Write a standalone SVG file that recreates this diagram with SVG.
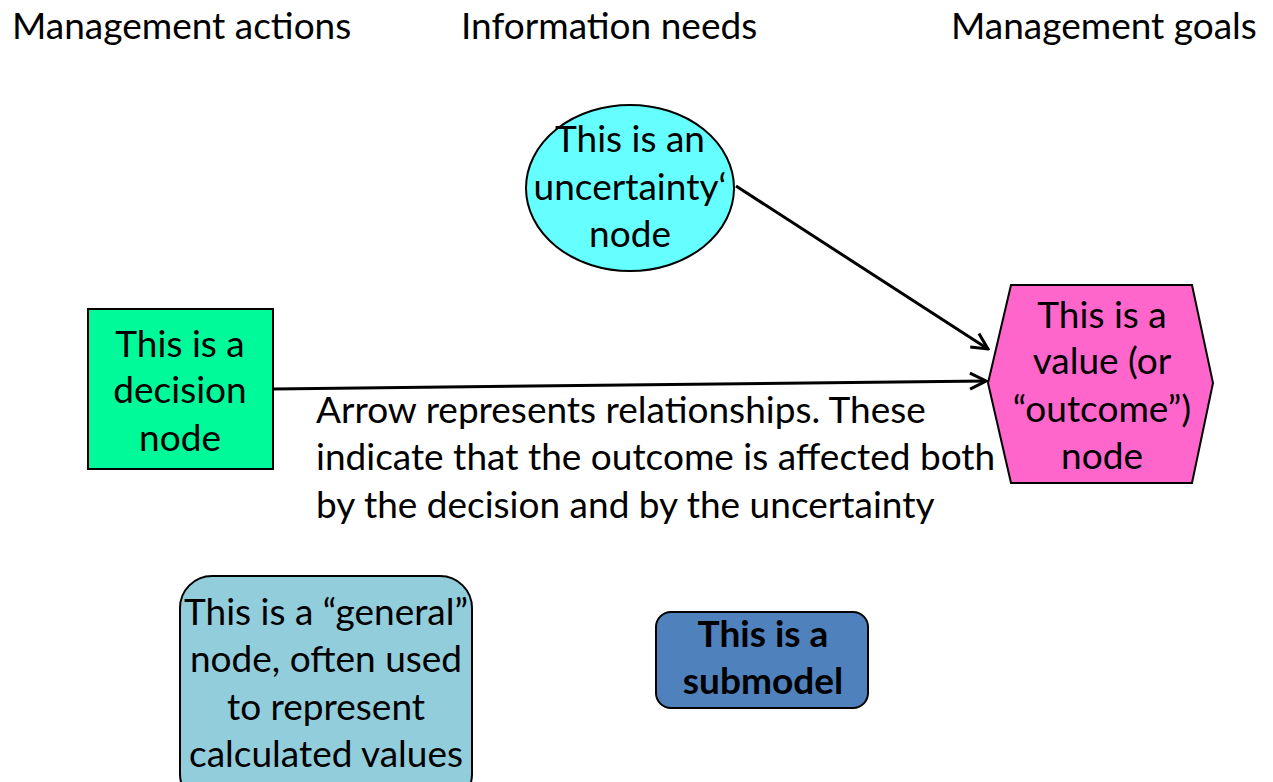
<svg xmlns="http://www.w3.org/2000/svg" width="1273" height="782" viewBox="0 0 1273 782">
  <style>
    text { font-family: Lato, "Open Sans", sans-serif; font-size: 37px; fill: #000; }
    .c { text-anchor: middle; }
    .b { font-weight: bold; }
    .shape { stroke: #000; stroke-width: 2; }
    .edge { stroke: #000; stroke-width: 3; fill: none; }
  </style>
  <defs>
    <marker id="arrow" viewBox="0 0 20 20" refX="18" refY="10" markerWidth="20" markerHeight="20" markerUnits="userSpaceOnUse" orient="auto">
      <path d="M2,2 L18,10 L2,18" fill="none" stroke="#000" stroke-width="3"/>
    </marker>
  </defs>
  <rect width="1273" height="782" fill="#fff"/>

  <!-- column headings -->
  <g id="headings">
    <text x="12" y="39">Management actions</text>
    <text x="461" y="39">Information needs</text>
    <text x="951" y="39">Management goals</text>
  </g>

  <!-- connectors -->
  <g id="connectors">
    <line class="edge" x1="273" y1="389" x2="986" y2="381" marker-end="url(#arrow)"/>
    <line class="edge" x1="736" y1="186" x2="988" y2="349" marker-end="url(#arrow)"/>
  </g>

  <g id="uncertainty-node">
    <ellipse class="shape" cx="630" cy="188" rx="104" ry="83" fill="#66FFFF"/>
    <text class="c" x="630" y="152">This is an</text>
    <text class="c" x="630" y="200">uncertainty‘</text>
    <text class="c" x="630" y="247">node</text>
  </g>

  <g id="decision-node">
    <rect class="shape" x="88" y="309" width="185" height="160" fill="#00FA9A"/>
    <text class="c" x="180" y="357">This is a</text>
    <text class="c" x="180" y="403">decision</text>
    <text class="c" x="180" y="451">node</text>
  </g>

  <g id="value-node">
    <polygon class="shape" points="1011,285 1192,285 1213,383 1192,483 1011,483 988,383" fill="#FF66CC"/>
    <text class="c" x="1102" y="328">This is a</text>
    <text class="c" x="1102" y="374">value (or</text>
    <text class="c" x="1102" y="422">“outcome”)</text>
    <text class="c" x="1102" y="469">node</text>
  </g>

  <g id="relationship-note">
    <text x="316" y="423">Arrow represents relationships. These</text>
    <text x="316" y="470">indicate that the outcome is affected both</text>
    <text x="316" y="518">by the decision and by the uncertainty</text>
  </g>

  <g id="general-node">
    <rect class="shape" x="180" y="576" width="292" height="230" rx="32" fill="#92CDDC"/>
    <text class="c" x="326" y="625">This is a “general”</text>
    <text class="c" x="326" y="672">node, often used</text>
    <text class="c" x="326" y="720">to represent</text>
    <text class="c" x="326" y="767">calculated values</text>
  </g>

  <g id="submodel-node">
    <rect class="shape" x="656" y="612" width="212" height="96" rx="15" fill="#4F81BD"/>
    <text class="c b" x="763" y="647">This is a</text>
    <text class="c b" x="763" y="694">submodel</text>
  </g>
</svg>
